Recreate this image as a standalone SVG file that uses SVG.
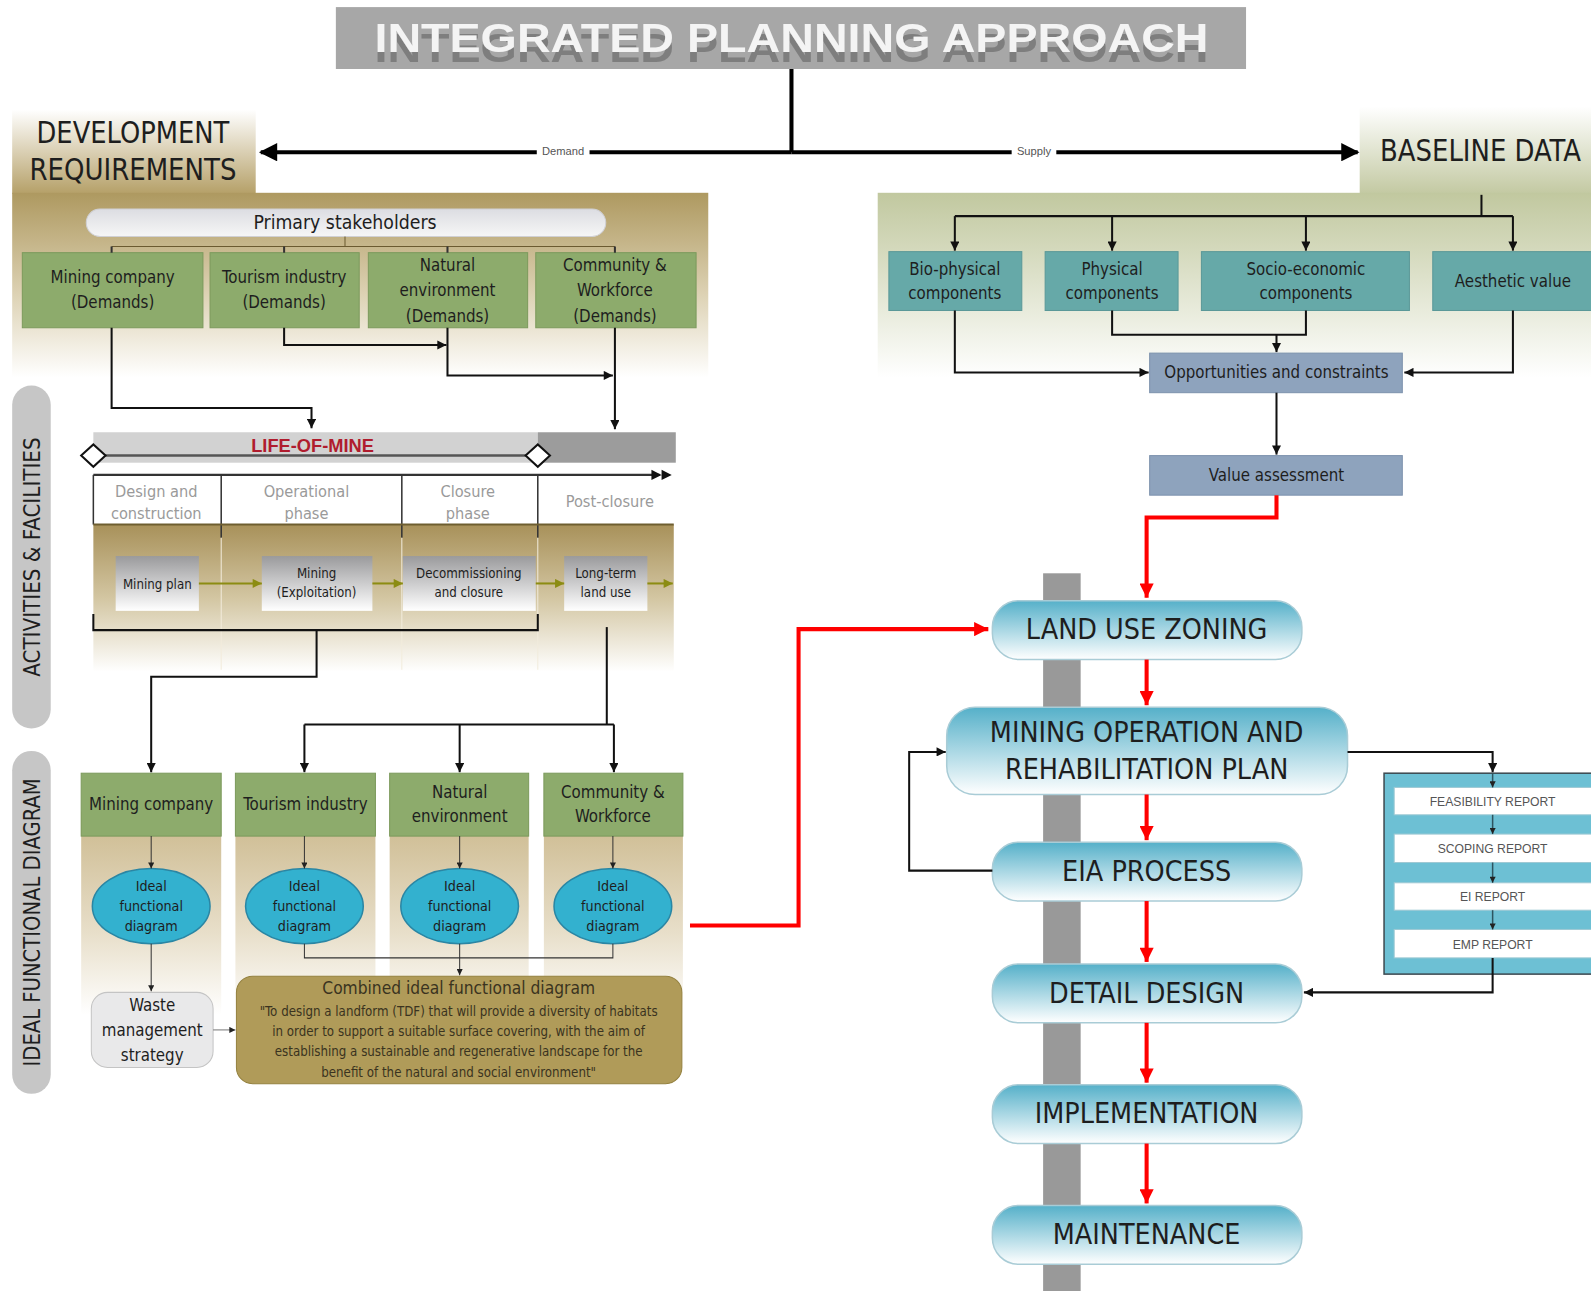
<svg xmlns="http://www.w3.org/2000/svg" width="1591" height="1291" viewBox="0 0 1591 1291">
<style>
.t{font-family:"Liberation Sans Narrow","DejaVu Sans Condensed","Liberation Sans",sans-serif;fill:#1e1e1e}
.m{text-anchor:middle}
.f16{font-size:16.5px}
.ln{fill:none;stroke:#111;stroke-width:2}
.thin{fill:none;stroke:#333;stroke-width:1}
.red{fill:none;stroke:#ff0000;stroke-width:4}
.green{fill:#8dab6c;stroke:#7c9a5c;stroke-width:1}
.teal{fill:#66a9a8;stroke:#5a9898;stroke-width:1}
.blue{fill:#8ea3bd;stroke:#7d92ad;stroke-width:1}
.pill{fill:url(#gPill);stroke:#a9ccd6;stroke-width:1.5}
.ell{fill:#33b1cf;stroke:#2a86a4;stroke-width:1.5}
.act{fill:url(#gAct)}
.rep{fill:#ffffff;stroke:#9fc9d4;stroke-width:1}
.ph{fill:#9a9a9a}
.cb{fill:#3a3320}
.rt{font-family:"Liberation Sans",sans-serif;font-size:12px;fill:#555;text-anchor:middle}
</style>
<defs>
<linearGradient id="gDevTab" x1="0" y1="0" x2="0" y2="1"><stop offset="0" stop-color="#ffffff"/><stop offset="1" stop-color="#b5a068"/></linearGradient>
<linearGradient id="gDevPanel" x1="0" y1="0" x2="0" y2="1"><stop offset="0" stop-color="#ae9960"/><stop offset="0.55" stop-color="#ddd2b4"/><stop offset="1" stop-color="#ffffff"/></linearGradient>
<linearGradient id="gBaseTab" x1="0" y1="0" x2="0" y2="1"><stop offset="0" stop-color="#ffffff"/><stop offset="1" stop-color="#c3c9a2"/></linearGradient>
<linearGradient id="gBasePanel" x1="0" y1="0" x2="0" y2="1"><stop offset="0" stop-color="#c1c89f"/><stop offset="0.6" stop-color="#e6e9d8"/><stop offset="1" stop-color="#ffffff"/></linearGradient>
<linearGradient id="gBand" x1="0" y1="0" x2="0" y2="1"><stop offset="0" stop-color="#a8915a"/><stop offset="0.5" stop-color="#d3c6a2"/><stop offset="1" stop-color="#ffffff"/></linearGradient>
<linearGradient id="gCol" x1="0" y1="0" x2="0" y2="1"><stop offset="0" stop-color="#cbb88c"/><stop offset="0.6" stop-color="#e8dfca"/><stop offset="1" stop-color="#ffffff"/></linearGradient>
<linearGradient id="gAct" x1="0" y1="0" x2="0" y2="1"><stop offset="0" stop-color="#9a9a9c"/><stop offset="1" stop-color="#ffffff"/></linearGradient>
<linearGradient id="gPill" x1="0" y1="0" x2="0" y2="1"><stop offset="0" stop-color="#55b0c9"/><stop offset="1" stop-color="#ffffff"/></linearGradient>
<linearGradient id="gStake" x1="0" y1="0" x2="0" y2="1"><stop offset="0" stop-color="#dcdde2"/><stop offset="1" stop-color="#f6f6f6"/></linearGradient>
<filter id="tsh" x="-5%" y="-20%" width="110%" height="170%">
<feOffset in="SourceAlpha" dy="10" result="o"/>
<feFlood flood-color="#7e7e7e"/>
<feComposite in2="o" operator="in" result="s"/>
<feMerge><feMergeNode in="s"/><feMergeNode in="SourceGraphic"/></feMerge>
</filter>
<marker id="aBig" viewBox="0 0 10 10" refX="9" refY="5" markerWidth="22" markerHeight="18" markerUnits="userSpaceOnUse" orient="auto"><path d="M0,0 L10,5 L0,10 z" fill="#000"/></marker>
<marker id="aN" viewBox="0 0 10 10" refX="10" refY="5" markerWidth="11" markerHeight="9" markerUnits="userSpaceOnUse" orient="auto"><path d="M0,0 L10,5 L0,10 z" fill="#111"/></marker>
<marker id="aS" viewBox="0 0 10 10" refX="10" refY="5" markerWidth="7" markerHeight="6" markerUnits="userSpaceOnUse" orient="auto"><path d="M0,0 L10,5 L0,10 z" fill="#222"/></marker>
<marker id="aR" viewBox="0 0 10 10" refX="10" refY="5" markerWidth="16" markerHeight="14" markerUnits="userSpaceOnUse" orient="auto"><path d="M0,0 L10,5 L0,10 z" fill="#ff0000"/></marker>
<marker id="aO" viewBox="0 0 10 10" refX="10" refY="5" markerWidth="10" markerHeight="9" markerUnits="userSpaceOnUse" orient="auto"><path d="M0,0 L10,5 L0,10 z" fill="#8c8c12"/></marker>
</defs>
<rect x="0" y="0" width="1591" height="1291" fill="#ffffff"/>
<g transform="scale(1.0147)">

<g id="panels">
<rect x="12" y="108" width="240" height="83" fill="url(#gDevTab)"/>
<rect x="12" y="190" width="686" height="182" fill="url(#gDevPanel)"/>
<rect x="1340" y="105" width="230" height="86" fill="url(#gBaseTab)"/>
<rect x="865" y="190" width="705" height="182" fill="url(#gBasePanel)"/>
<rect x="92" y="517" width="572" height="145" fill="url(#gBand)"/>
<rect x="80" y="800" width="138" height="200" fill="url(#gCol)"/>
<rect x="232" y="800" width="138" height="200" fill="url(#gCol)"/>
<rect x="384" y="800" width="137" height="200" fill="url(#gCol)"/>
<rect x="536" y="800" width="137" height="200" fill="url(#gCol)"/>
<rect x="1028" y="565" width="37" height="710" fill="#999999"/>
</g>

<g id="title">
<rect x="331" y="7" width="897" height="61" fill="#a7a7a7"/>
<text x="780" y="51" class="m" font-family="Liberation Sans,sans-serif" font-weight="bold" font-size="40" fill="#f4f4f4" textLength="822" lengthAdjust="spacingAndGlyphs" filter="url(#tsh)">INTEGRATED PLANNING APPROACH</text>
</g>

<g id="dev-req">
<text x="131" y="141" class="t m" font-size="30" textLength="190" lengthAdjust="spacingAndGlyphs">DEVELOPMENT</text>
<text x="131" y="177" class="t m" font-size="30" textLength="204" lengthAdjust="spacingAndGlyphs">REQUIREMENTS</text>
</g>
<g id="baseline-data">
<text x="1459" y="159" class="t m" font-size="29" textLength="198" lengthAdjust="spacingAndGlyphs">BASELINE DATA</text>
</g>

<g id="label-activities">
<rect x="12" y="380" width="38" height="338" rx="19" fill="#c6c6c6"/>
<text transform="translate(39,549) rotate(-90)" class="t m" font-size="22" fill="#333" textLength="236" lengthAdjust="spacingAndGlyphs">ACTIVITIES &amp; FACILITIES</text>
</g>
<g id="label-ideal">
<rect x="12" y="740" width="38" height="338" rx="19" fill="#c6c6c6"/>
<text transform="translate(39,909) rotate(-90)" class="t m" font-size="22" fill="#333" textLength="284" lengthAdjust="spacingAndGlyphs">IDEAL FUNCTIONAL DIAGRAM</text>
</g>

<g id="primary-stakeholders">
<rect x="85" y="206" width="512" height="27" rx="13.5" fill="url(#gStake)" stroke="#d0d0d4"/>
<text x="340" y="226" class="t m" font-size="19">Primary stakeholders</text>
</g>

<g id="sh-mining"><rect x="22" y="249" width="178" height="74" class="green"/>
<text x="111" y="279" class="t m f16">Mining company</text><text x="111" y="304" class="t m f16">(Demands)</text></g>
<g id="sh-tourism"><rect x="207" y="249" width="147" height="74" class="green"/>
<text x="280" y="279" class="t m f16">Tourism industry</text><text x="280" y="304" class="t m f16">(Demands)</text></g>
<g id="sh-natural"><rect x="363" y="249" width="157" height="74" class="green"/>
<text x="441" y="267" class="t m f16">Natural</text><text x="441" y="292" class="t m f16">environment</text><text x="441" y="317" class="t m f16">(Demands)</text></g>
<g id="sh-community"><rect x="528" y="249" width="158" height="74" class="green"/>
<text x="606" y="267" class="t m f16">Community &amp;</text><text x="606" y="292" class="t m f16">Workforce</text><text x="606" y="317" class="t m f16">(Demands)</text></g>

<g id="life-of-mine">
<rect x="92" y="426" width="438" height="30" fill="#d2d2d2"/>
<rect x="530" y="426" width="136" height="30" fill="#9c9c9c"/>
<text x="308" y="445" class="m" font-family="Liberation Sans,sans-serif" font-weight="bold" font-size="18" fill="#b01c2e">LIFE-OF-MINE</text>
<line x1="92" y1="449" x2="530" y2="449" stroke="#555" stroke-width="2.5"/>
<path d="M80,449 L92,438 L104,449 L92,460 z" fill="#fff" stroke="#111" stroke-width="2"/>
<path d="M518,449 L530,438 L542,449 L530,460 z" fill="#fff" stroke="#111" stroke-width="2"/>
</g>

<g id="timeline">
<line x1="92" y1="468" x2="650" y2="468" stroke="#333" stroke-width="2"/>
<path d="M642,463 L652,468 L642,473 z M652,463 L662,468 L652,473 z" fill="#111"/>
<line x1="92" y1="468" x2="92" y2="517" stroke="#333" stroke-width="1.5"/>
<line x1="218" y1="468" x2="218" y2="530" stroke="#333" stroke-width="1.5"/>
<line x1="396" y1="468" x2="396" y2="530" stroke="#333" stroke-width="1.5"/>
<line x1="530" y1="468" x2="530" y2="530" stroke="#333" stroke-width="1.5"/>
<line x1="92" y1="517" x2="664" y2="517" stroke="#6e5e30" stroke-width="2"/>
<line x1="218" y1="530" x2="218" y2="660" stroke="#f2ecdc" stroke-width="1"/>
<line x1="396" y1="530" x2="396" y2="660" stroke="#f2ecdc" stroke-width="1"/>
<line x1="530" y1="530" x2="530" y2="660" stroke="#f2ecdc" stroke-width="1"/>
<text x="154" y="490" class="t m ph" font-size="16">Design and</text>
<text x="154" y="511" class="t m ph" font-size="16">construction</text>
<text x="302" y="490" class="t m ph" font-size="16">Operational</text>
<text x="302" y="511" class="t m ph" font-size="16">phase</text>
<text x="461" y="490" class="t m ph" font-size="16">Closure</text>
<text x="461" y="511" class="t m ph" font-size="16">phase</text>
<text x="601" y="500" class="t m ph" font-size="16">Post-closure</text>
</g>

<g id="act-mining-plan"><rect x="114" y="548" width="82" height="54" class="act"/>
<text x="155" y="580" class="t m" font-size="13">Mining plan</text></g>
<g id="act-mining"><rect x="258" y="548" width="109" height="54" class="act"/>
<text x="312" y="570" class="t m" font-size="13">Mining</text><text x="312" y="588" class="t m" font-size="13">(Exploitation)</text></g>
<g id="act-decom"><rect x="397" y="548" width="131" height="54" class="act"/>
<text x="462" y="570" class="t m" font-size="13">Decommissioning</text><text x="462" y="588" class="t m" font-size="13">and closure</text></g>
<g id="act-longterm"><rect x="556" y="548" width="82" height="54" class="act"/>
<text x="597" y="570" class="t m" font-size="13">Long-term</text><text x="597" y="588" class="t m" font-size="13">land use</text></g>

<g id="ifd-mining"><rect x="80" y="762" width="138" height="62" class="green"/>
<text x="149" y="798" class="t m f16">Mining company</text></g>
<g id="ifd-tourism"><rect x="232" y="762" width="138" height="62" class="green"/>
<text x="301" y="798" class="t m f16">Tourism industry</text></g>
<g id="ifd-natural"><rect x="384" y="762" width="137" height="62" class="green"/>
<text x="453" y="786" class="t m f16">Natural</text><text x="453" y="810" class="t m f16">environment</text></g>
<g id="ifd-community"><rect x="536" y="762" width="137" height="62" class="green"/>
<text x="604" y="786" class="t m f16">Community &amp;</text><text x="604" y="810" class="t m f16">Workforce</text></g>

<g id="ell-1"><ellipse cx="149" cy="893" rx="58" ry="37" class="ell"/>
<text x="149" y="878" class="t m" font-size="14">Ideal</text><text x="149" y="898" class="t m" font-size="14">functional</text><text x="149" y="918" class="t m" font-size="14">diagram</text></g>
<g id="ell-2"><ellipse cx="300" cy="893" rx="58" ry="37" class="ell"/>
<text x="300" y="878" class="t m" font-size="14">Ideal</text><text x="300" y="898" class="t m" font-size="14">functional</text><text x="300" y="918" class="t m" font-size="14">diagram</text></g>
<g id="ell-3"><ellipse cx="453" cy="893" rx="58" ry="37" class="ell"/>
<text x="453" y="878" class="t m" font-size="14">Ideal</text><text x="453" y="898" class="t m" font-size="14">functional</text><text x="453" y="918" class="t m" font-size="14">diagram</text></g>
<g id="ell-4"><ellipse cx="604" cy="893" rx="58" ry="37" class="ell"/>
<text x="604" y="878" class="t m" font-size="14">Ideal</text><text x="604" y="898" class="t m" font-size="14">functional</text><text x="604" y="918" class="t m" font-size="14">diagram</text></g>

<g id="waste"><rect x="90" y="978" width="120" height="74" rx="16" fill="#e9e9ea" stroke="#c4c4c4"/>
<text x="150" y="996" class="t m f16">Waste</text><text x="150" y="1021" class="t m f16">management</text><text x="150" y="1046" class="t m f16">strategy</text></g>

<g id="combined"><rect x="233" y="962" width="439" height="106" rx="16" fill="#b09b59" stroke="#94813f"/>
<text x="452" y="980" class="t m cb" font-size="17">Combined ideal functional diagram</text>
<text x="452" y="1001" class="t m cb" font-size="13">"To design a landform (TDF) that will provide a diversity of habitats</text>
<text x="452" y="1021" class="t m cb" font-size="13">in order to support a suitable surface covering, with the aim of</text>
<text x="452" y="1041" class="t m cb" font-size="13">establishing a sustainable and regenerative landscape for the</text>
<text x="452" y="1061" class="t m cb" font-size="13">benefit of the natural and social environment"</text></g>

<g id="bd-bio"><rect x="876" y="248" width="131" height="58" class="teal"/>
<text x="941" y="271" class="t m f16">Bio-physical</text><text x="941" y="295" class="t m f16">components</text></g>
<g id="bd-phys"><rect x="1030" y="248" width="131" height="58" class="teal"/>
<text x="1096" y="271" class="t m f16">Physical</text><text x="1096" y="295" class="t m f16">components</text></g>
<g id="bd-socio"><rect x="1184" y="248" width="205" height="58" class="teal"/>
<text x="1287" y="271" class="t m f16">Socio-economic</text><text x="1287" y="295" class="t m f16">components</text></g>
<g id="bd-aesthetic"><rect x="1412" y="248" width="160" height="58" class="teal"/>
<text x="1491" y="283" class="t m f16">Aesthetic value</text></g>

<g id="opportunities"><rect x="1133" y="348" width="249" height="39" class="blue"/>
<text x="1258" y="373" class="t m f16">Opportunities and constraints</text></g>
<g id="value-assessment"><rect x="1133" y="449" width="249" height="39" class="blue"/>
<text x="1258" y="474" class="t m f16">Value assessment</text></g>

<g id="land-use"><rect x="978" y="592" width="305" height="58" rx="26" class="pill"/>
<text x="1130" y="630" class="t m" font-size="28">LAND USE ZONING</text></g>
<g id="mining-op"><rect x="933" y="697" width="395" height="86" rx="28" class="pill"/>
<text x="1130" y="731" class="t m" font-size="28">MINING OPERATION AND</text>
<text x="1130" y="768" class="t m" font-size="28">REHABILITATION PLAN</text></g>
<g id="eia"><rect x="978" y="830" width="305" height="58" rx="26" class="pill"/>
<text x="1130" y="868" class="t m" font-size="28">EIA PROCESS</text></g>
<g id="detail"><rect x="978" y="950" width="305" height="58" rx="26" class="pill"/>
<text x="1130" y="988" class="t m" font-size="28">DETAIL DESIGN</text></g>
<g id="implementation"><rect x="978" y="1069" width="305" height="58" rx="26" class="pill"/>
<text x="1130" y="1107" class="t m" font-size="28">IMPLEMENTATION</text></g>
<g id="maintenance"><rect x="978" y="1188" width="305" height="58" rx="26" class="pill"/>
<text x="1130" y="1226" class="t m" font-size="28">MAINTENANCE</text></g>

<g id="reports">
<rect x="1364" y="762" width="210" height="198" fill="#6dc0d4" stroke="#3d4a50" stroke-width="1.5"/>
<g id="rep-feasibility"><rect x="1374" y="776" width="196" height="27" class="rep"/><text x="1471" y="794" class="rt">FEASIBILITY REPORT</text></g>
<g id="rep-scoping"><rect x="1374" y="822" width="196" height="28" class="rep"/><text x="1471" y="841" class="rt">SCOPING REPORT</text></g>
<g id="rep-ei"><rect x="1374" y="870" width="196" height="27" class="rep"/><text x="1471" y="888" class="rt">EI REPORT</text></g>
<g id="rep-emp"><rect x="1374" y="916" width="196" height="28" class="rep"/><text x="1471" y="935" class="rt">EMP REPORT</text></g>
</g>

<g id="connectors">
<line x1="780" y1="68" x2="780" y2="150" stroke="#000" stroke-width="4"/>
<line x1="780" y1="150" x2="257" y2="150" stroke="#000" stroke-width="4" marker-end="url(#aBig)"/>
<line x1="780" y1="150" x2="1338" y2="150" stroke="#000" stroke-width="4" marker-end="url(#aBig)"/>
<rect x="529" y="142" width="52" height="15" fill="#fff"/>
<text x="555" y="153" class="m" font-family="Liberation Sans,sans-serif" font-size="11" fill="#555">Demand</text>
<rect x="997" y="142" width="44" height="15" fill="#fff"/>
<text x="1019" y="153" class="m" font-family="Liberation Sans,sans-serif" font-size="11" fill="#555">Supply</text>

<line x1="340" y1="233" x2="340" y2="243" stroke="#6b5a30" stroke-width="1"/>
<line x1="110" y1="243" x2="606" y2="243" stroke="#6b5a30" stroke-width="1"/>
<path d="M110,243 V249 M280,243 V249 M441,243 V249 M606,243 V249" stroke="#333" stroke-width="2" fill="none"/>

<polyline points="110,323 110,402 307,402 307,422" class="ln" marker-end="url(#aN)"/>
<polyline points="280,323 280,340 440,340" class="ln" marker-end="url(#aN)"/>
<polyline points="441,323 441,370 604,370" class="ln" marker-end="url(#aN)"/>
<line x1="606" y1="323" x2="606" y2="423" class="ln" marker-end="url(#aN)"/>

<line x1="196" y1="575" x2="258" y2="575" stroke="#8c8c12" stroke-width="2" marker-end="url(#aO)"/>
<line x1="367" y1="575" x2="397" y2="575" stroke="#8c8c12" stroke-width="2" marker-end="url(#aO)"/>
<line x1="528" y1="575" x2="556" y2="575" stroke="#8c8c12" stroke-width="2" marker-end="url(#aO)"/>
<line x1="638" y1="575" x2="663" y2="575" stroke="#8c8c12" stroke-width="2" marker-end="url(#aO)"/>
<polyline points="92,605 92,621 530,621 530,605" class="ln"/>
<polyline points="312,621 312,667 149,667 149,761" class="ln" marker-end="url(#aN)"/>
<line x1="598" y1="618" x2="598" y2="714" class="ln"/>
<line x1="300" y1="714" x2="605" y2="714" class="ln"/>
<line x1="300" y1="714" x2="300" y2="761" class="ln" marker-end="url(#aN)"/>
<line x1="453" y1="714" x2="453" y2="761" class="ln" marker-end="url(#aN)"/>
<line x1="605" y1="714" x2="605" y2="761" class="ln" marker-end="url(#aN)"/>

<line x1="149" y1="824" x2="149" y2="856" class="thin" marker-end="url(#aS)"/>
<line x1="300" y1="824" x2="300" y2="856" class="thin" marker-end="url(#aS)"/>
<line x1="453" y1="824" x2="453" y2="856" class="thin" marker-end="url(#aS)"/>
<line x1="604" y1="824" x2="604" y2="856" class="thin" marker-end="url(#aS)"/>
<line x1="149" y1="930" x2="149" y2="977" class="thin" marker-end="url(#aS)"/>
<polyline points="300,930 300,944 604,944 604,930" class="thin"/>
<line x1="453" y1="930" x2="453" y2="961" class="thin" marker-end="url(#aS)"/>
<line x1="210" y1="1015" x2="232" y2="1015" stroke="#777" stroke-width="1" marker-end="url(#aS)"/>

<polyline points="680,912 787,912 787,620 974,620" class="red" marker-end="url(#aR)"/>
<polyline points="1258,488 1258,510 1130,510 1130,589" class="red" marker-end="url(#aR)"/>
<line x1="1130" y1="650" x2="1130" y2="695" class="red" marker-end="url(#aR)"/>
<line x1="1130" y1="783" x2="1130" y2="828" class="red" marker-end="url(#aR)"/>
<line x1="1130" y1="888" x2="1130" y2="948" class="red" marker-end="url(#aR)"/>
<line x1="1130" y1="1008" x2="1130" y2="1067" class="red" marker-end="url(#aR)"/>
<line x1="1130" y1="1127" x2="1130" y2="1186" class="red" marker-end="url(#aR)"/>

<line x1="1460" y1="192" x2="1460" y2="213" class="ln"/>
<line x1="941" y1="213" x2="1491" y2="213" class="ln"/>
<line x1="941" y1="213" x2="941" y2="247" class="ln" marker-end="url(#aN)"/>
<line x1="1096" y1="213" x2="1096" y2="247" class="ln" marker-end="url(#aN)"/>
<line x1="1287" y1="213" x2="1287" y2="247" class="ln" marker-end="url(#aN)"/>
<line x1="1491" y1="213" x2="1491" y2="247" class="ln" marker-end="url(#aN)"/>
<polyline points="941,306 941,367 1132,367" class="ln" marker-end="url(#aN)"/>
<polyline points="1096,306 1096,330 1287,330 1287,306" class="ln"/>
<line x1="1258" y1="330" x2="1258" y2="347" class="ln" marker-end="url(#aN)"/>
<polyline points="1491,306 1491,367 1384,367" class="ln" marker-end="url(#aN)"/>
<line x1="1258" y1="387" x2="1258" y2="448" class="ln" marker-end="url(#aN)"/>

<polyline points="978,858 896,858 896,741 932,741" class="ln" marker-end="url(#aN)"/>
<polyline points="1328,741 1471,741 1471,761" class="ln" marker-end="url(#aN)"/>
<line x1="1471" y1="762" x2="1471" y2="776" stroke="#2d5560" stroke-width="1.5" marker-end="url(#aS)"/>
<line x1="1471" y1="803" x2="1471" y2="822" stroke="#2d5560" stroke-width="1.5" marker-end="url(#aS)"/>
<line x1="1471" y1="850" x2="1471" y2="870" stroke="#2d5560" stroke-width="1.5" marker-end="url(#aS)"/>
<line x1="1471" y1="897" x2="1471" y2="916" stroke="#2d5560" stroke-width="1.5" marker-end="url(#aS)"/>
<polyline points="1471,944 1471,978 1285,978" class="ln" marker-end="url(#aN)"/>
</g>
</g>
</svg>
